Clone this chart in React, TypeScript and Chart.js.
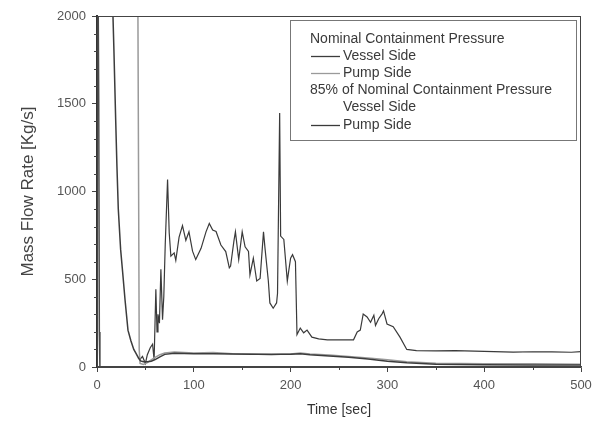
import React, { useEffect, useRef } from 'react';
import { Chart, registerables } from 'chart.js';

Chart.register(...registerables);

// ---- data ----
const xTicks = [0, 100, 200, 300, 400, 500];
const yTicks = [0, 500, 1000, 1500, 2000];

const groupTitles = ['Nominal Containment Pressure', '85% of Nominal Containment Pressure'];
const seriesLabels = ['Vessel Side', 'Pump Side', 'Vessel Side', 'Pump Side'];

// Nominal – Vessel Side
const nomVesselT = [14, 16.5, 17.5, 19.3, 20.6, 22, 24.4, 26.5, 29, 32, 35, 38, 40, 43, 45, 48, 52, 56, 60, 65, 70, 80, 100, 120, 140, 160, 180, 200, 210, 220, 240, 260, 280, 300, 320, 350, 400, 450, 500];
const nomVesselV = [2600, 2000, 1800, 1409, 1142, 900, 670, 540, 380, 210, 150, 100, 80, 50, 35, 30, 30, 33, 42, 58, 72, 78, 76, 75, 74, 73, 72, 72, 76, 70, 63, 55, 45, 33, 24, 16, 13, 12, 12];

// Nominal – Pump Side
const nomPumpT = [42, 43, 43.6, 44.5, 48, 52, 56, 60, 65, 70, 80, 100, 120, 140, 160, 180, 190, 200, 210, 220, 240, 260, 280, 300, 320, 350, 400, 450, 500];
const nomPumpV = [2400, 1000, 100, 20, 15, 25, 40, 55, 70, 80, 85, 80, 82, 76, 74, 70, 72, 74, 80, 74, 68, 60, 52, 42, 30, 22, 18, 18, 16];

// 85% – Vessel Side
const redVesselT = [0, 1, 1.8, 2.4, 3];
const redVesselV = [2600, 2300, 1500, 200, 0];

// 85% – Pump Side
const redPumpT = [44, 47, 50, 52, 55, 57.4, 59, 60.8, 62, 63, 64.5, 66, 67.7, 69, 70.5, 72.9, 74.6, 76.3, 79.7, 81.4, 84.8, 88.3, 91.8, 95, 98.7, 102, 107.5, 112.6, 116, 119.5, 123, 128, 133, 136.7, 138, 141.5, 143, 146.4, 150, 153, 156.5, 158, 161.5, 165, 168.5, 172, 173.5, 177, 178.6, 182, 185.5, 186.5, 188.7, 189.7, 193, 196.6, 198, 200, 202, 205, 206.6, 210, 213.5, 217, 222, 229, 238, 251.5, 265, 268.8, 272, 275, 279, 282.6, 286, 287.7, 291, 294.5, 296, 299.6, 306, 313, 320, 330, 350, 370, 390, 410, 430, 450, 470, 490, 500];
const redPumpV = [40, 60, 20, 70, 110, 130, 40, 443, 200, 300, 250, 557, 270, 400, 700, 1068, 765, 632, 650, 608, 740, 806, 722, 770, 660, 612, 676, 770, 818, 780, 772, 695, 658, 565, 575, 720, 770, 612, 770, 685, 658, 525, 620, 490, 505, 770, 680, 490, 365, 335, 365, 420, 1447, 746, 727, 490, 545, 620, 640, 600, 185, 222, 195, 210, 170, 160, 155, 155, 155, 200, 210, 302, 285, 255, 295, 237, 275, 303, 320, 245, 230, 170, 100, 93, 92, 93, 90, 88, 85, 87, 86, 84, 88];

const colors = ['#3c3c3c', '#9a9a9a', '#4a4a4a', '#3a3a3a'];
const legendLine = [true, true, false, true];

const FONT = "'Liberation Sans', Arial, sans-serif";

const zip = (t: number[], v: number[]) => t.map((x, i) => ({ x, y: v[i] }));

const decorPlugin = {
  id: 'decor',
  afterDraw(chart: any) {
    const { ctx, chartArea: a, scales } = chart;
    const xs = scales.x;
    const ys = scales.y;
    ctx.save();
    // frame
    ctx.strokeStyle = '#444';
    ctx.lineWidth = 1;
    ctx.strokeRect(a.left + 0.5, a.top + 0.5, a.right - a.left - 1, a.bottom - a.top);
    // minor ticks
    ctx.beginPath();
    for (let v = 50; v < 500; v += 100) {
      const px = Math.round(xs.getPixelForValue(v)) + 0.5;
      ctx.moveTo(px, a.bottom);
      ctx.lineTo(px, a.bottom + 3);
    }
    for (let v = 100; v < 2000; v += 100) {
      if (v % 500 === 0) continue;
      const py = Math.round(ys.getPixelForValue(v)) + 0.5;
      ctx.moveTo(a.left, py);
      ctx.lineTo(a.left - 3, py);
    }
    ctx.stroke();

    // legend
    const bx = 290.5, by = 20.5, bw = 286, bh = 120;
    ctx.fillStyle = '#fff';
    ctx.fillRect(bx, by, bw, bh);
    ctx.strokeStyle = '#777';
    ctx.strokeRect(bx, by, bw, bh);
    ctx.font = `14px ${FONT}`;
    ctx.textBaseline = 'middle';
    ctx.fillStyle = '#3a3a3a';
    const ds = chart.data.datasets;
    const rows = [39, 56, 73, 90, 107, 125];
    ctx.fillText(groupTitles[0], 310, rows[0]);
    ctx.fillText(groupTitles[1], 310, rows[3]);
    const entryRows = [rows[1], rows[2], rows[4], rows[5]];
    ds.forEach((d: any, i: number) => {
      const y = entryRows[i];
      if (legendLine[i]) {
        ctx.strokeStyle = d.borderColor;
        ctx.lineWidth = 1.3;
        ctx.beginPath();
        ctx.moveTo(311, y + 0.5);
        ctx.lineTo(340, y + 0.5);
        ctx.stroke();
      }
      ctx.fillStyle = '#3a3a3a';
      ctx.fillText(seriesLabels[i], 343, y);
    });
    ctx.restore();
  },
};

export default function App() {
  const ref = useRef<HTMLCanvasElement>(null);
  useEffect(() => {
    if (!ref.current) return;
    const chart = new Chart(ref.current, {
      type: 'line',
      data: {
        datasets: [
          { label: 'Nominal Vessel Side', data: zip(nomVesselT, nomVesselV) },
          { label: 'Nominal Pump Side', data: zip(nomPumpT, nomPumpV) },
          { label: '85% Vessel Side', data: zip(redVesselT, redVesselV) },
          { label: '85% Pump Side', data: zip(redPumpT, redPumpV) },
        ].map((d, i) => ({
          ...d,
          borderColor: colors[i],
          backgroundColor: colors[i],
          borderWidth: i === 3 ? 1.2 : 1.5,
          pointRadius: 0,
          tension: 0,
          fill: false,
        })),
      },
      options: {
        responsive: false,
        animation: false,
        layout: { padding: { top: 16, right: 20, left: 0, bottom: 0 } },
        plugins: { legend: { display: false }, tooltip: { enabled: false } },
        scales: {
          x: {
            type: 'linear',
            min: 0,
            max: 500,
            afterBuildTicks: (s: any) => { s.ticks = xTicks.map((v) => ({ value: v })); },
            afterFit: (s: any) => { s.height = 58; },
            ticks: { color: '#555', font: { family: FONT, size: 13 }, padding: 6, maxRotation: 0, callback: (v: any) => String(v) },
            grid: { drawOnChartArea: false, tickLength: 5, color: '#444' },
            border: { color: '#444', width: 1.5 },
            title: { display: true, text: 'Time [sec]', color: '#333', font: { family: FONT, size: 14 }, padding: { top: 0, bottom: 6 } },
          },
          y: {
            type: 'linear',
            min: 0,
            max: 2000,
            afterBuildTicks: (s: any) => { s.ticks = yTicks.map((v) => ({ value: v })); },
            afterFit: (s: any) => { s.width = 97; },
            ticks: { color: '#555', font: { family: FONT, size: 13 }, padding: 6, callback: (v: any) => String(v) },
            grid: { drawOnChartArea: false, tickLength: 5, color: '#444' },
            border: { color: '#333', width: 2 },
            title: { display: true, text: 'Mass Flow Rate [Kg/s]', color: '#444', font: { family: FONT, size: 17 }, padding: { top: 18, bottom: 0 } },
          },
        },
      },
      plugins: [decorPlugin],
    } as any);
    return () => chart.destroy();
  }, []);
  return (
    <div style={{ position: 'absolute', left: 0, top: 0, width: 601, height: 425, background: '#fff' }}>
      <canvas ref={ref} width={601} height={425} style={{ display: 'block' }} />
    </div>
  );
}
